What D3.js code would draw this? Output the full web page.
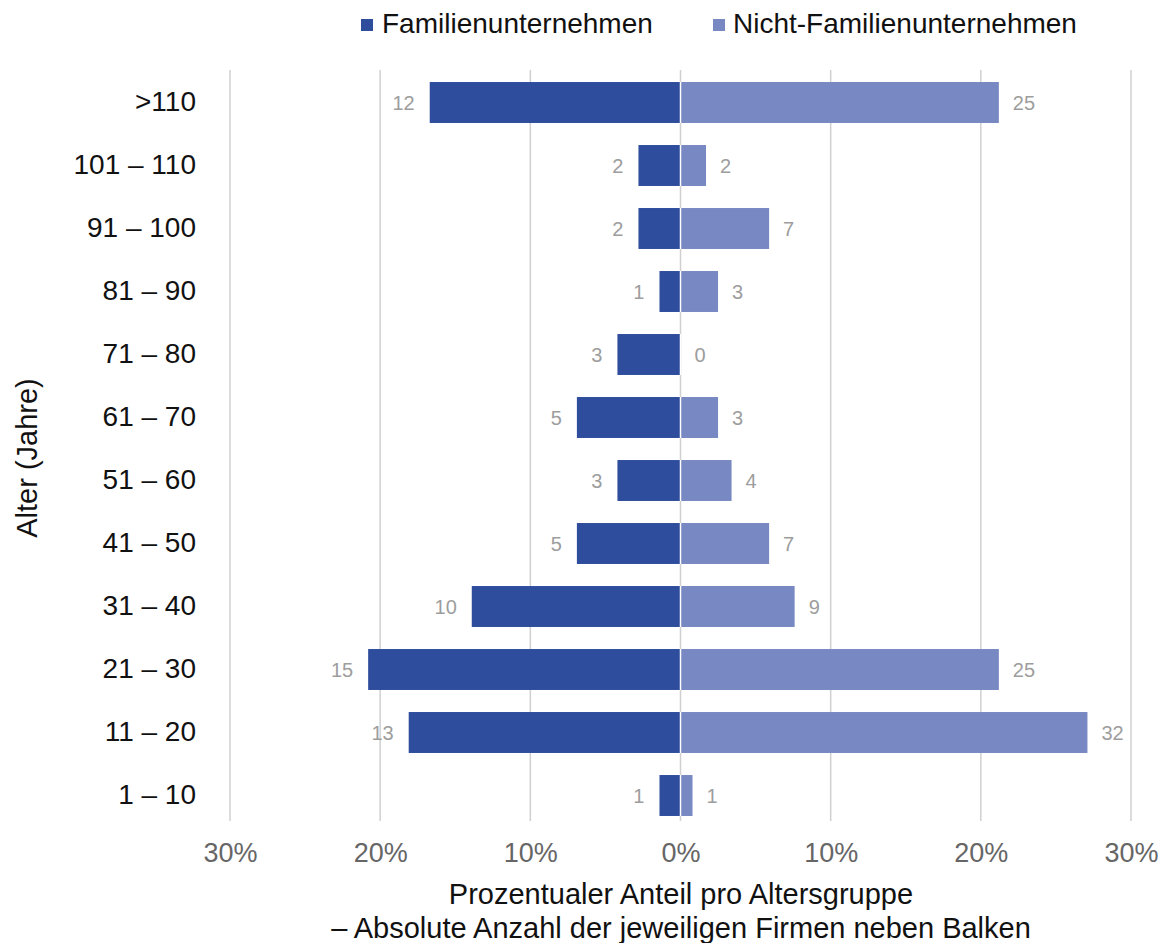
<!DOCTYPE html>
<html><head><meta charset="utf-8">
<script src="https://cdn.jsdelivr.net/npm/d3@7"></script>
<style>body{margin:0;background:#fff;} svg{display:block;font-family:"Liberation Sans",Arial,sans-serif;}</style>
</head><body><svg id="c" width="1166" height="943"></svg>
<script>
const categories = [">110","101 – 110","91 – 100","81 – 90","71 – 80","61 – 70","51 – 60","41 – 50","31 – 40","21 – 30","11 – 20","1 – 10"];
const familyPct = [16.7,2.8,2.8,1.4,4.2,6.9,4.2,6.9,13.9,20.8,18.1,1.4];
const familyCount = [12,2,2,1,3,5,3,5,10,15,13,1];
const nonFamilyPct = [21.2,1.7,5.9,2.5,0,2.5,3.4,5.9,7.6,21.2,27.1,0.8];
const nonFamilyCount = [25,2,7,3,0,3,4,7,9,25,32,1];
const tickValues = [-30,-20,-10,0,10,20,30];
const seriesNames = ["Familienunternehmen","Nicht-Familienunternehmen"];
const colors = ["#2f4d9d","#7888c2"];

const svg = d3.select("#c");
const x = d3.scaleLinear().domain([-30,30]).range([230,1131]);
const y = d3.scaleBand().domain(categories).range([71,827]).paddingInner(0.35).paddingOuter(0.175);
const grid = "#d0d0d0";

// gridlines
svg.append("g").selectAll("line").data(tickValues).join("line")
  .attr("x1",d=>x(d)).attr("x2",d=>x(d)).attr("y1",70).attr("y2",821)
  .attr("stroke",grid).attr("stroke-width",1.5);

// bars
const rows = categories.map((c,i)=>({c,fp:familyPct[i],fc:familyCount[i],np:nonFamilyPct[i],nc:nonFamilyCount[i]}));
svg.append("g").selectAll("rect").data(rows).join("rect")
  .attr("x",d=>x(-d.fp)).attr("width",d=>x(0)-x(-d.fp))
  .attr("y",d=>y(d.c)).attr("height",y.bandwidth()).attr("fill",colors[0]);
svg.append("g").selectAll("rect").data(rows.filter(d=>d.np>0)).join("rect")
  .attr("x",x(0)).attr("width",d=>x(d.np)-x(0))
  .attr("y",d=>y(d.c)).attr("height",y.bandwidth()).attr("fill",colors[1]);
// white separator over bars at 0
svg.append("g").selectAll("line").data(rows).join("line")
  .attr("x1",x(0)).attr("x2",x(0))
  .attr("y1",d=>y(d.c)).attr("y2",d=>y(d.c)+y.bandwidth())
  .attr("stroke","#fff").attr("stroke-width",1.5);

// value labels
svg.append("g").selectAll("text").data(rows).join("text")
  .attr("x",d=>x(-d.fp)-15).attr("y",d=>y(d.c)+y.bandwidth()/2).attr("dy","0.35em")
  .attr("text-anchor","end").attr("font-size",20).attr("fill","#9d9d9d").text(d=>d.fc);
svg.append("g").selectAll("text").data(rows).join("text")
  .attr("x",d=>x(d.np)+14).attr("y",d=>y(d.c)+y.bandwidth()/2).attr("dy","0.35em")
  .attr("text-anchor","start").attr("font-size",20).attr("fill","#9d9d9d").text(d=>d.nc);

// x axis
const xAxis = d3.axisBottom(x).tickValues(tickValues).tickSize(0).tickPadding(0)
  .tickFormat(d=>Math.abs(d)+"%");
const gx = svg.append("g").attr("transform","translate(0,843)").call(xAxis);
gx.select(".domain").remove();
gx.selectAll("text").attr("font-size",27).attr("fill","#666").attr("font-family","Liberation Sans, Arial, sans-serif").attr("dy","0.72em");

// y axis
const yAxis = d3.axisLeft(y).tickSize(0).tickPadding(0);
const gy = svg.append("g").attr("transform","translate(196,0)").call(yAxis);
gy.select(".domain").remove();
gy.selectAll("text").attr("font-size",28).attr("fill","#111").attr("font-family","Liberation Sans, Arial, sans-serif");

// axis titles
svg.append("text").attr("transform","translate(37,458) rotate(-90)").attr("text-anchor","middle")
  .attr("font-size",29).attr("fill","#111").text("Alter (Jahre)");
svg.append("text").attr("x",681).attr("y",904).attr("text-anchor","middle")
  .attr("font-size",29).attr("fill","#111").text("Prozentualer Anteil pro Altersgruppe");
svg.append("text").attr("x",681).attr("y",938).attr("text-anchor","middle")
  .attr("font-size",29).attr("fill","#111").text("– Absolute Anzahl der jeweiligen Firmen neben Balken");

// legend
const legX = [361,713];
const lg = svg.append("g").selectAll("g").data(seriesNames).join("g")
  .attr("transform",(d,i)=>`translate(${legX[i]},0)`);
lg.append("rect").attr("x",0).attr("y",19).attr("width",12).attr("height",12).attr("fill",(d,i)=>colors[i]);
lg.append("text").attr("x",(d,i)=>i===0?21:20).attr("y",33).attr("font-size",28).attr("fill","#111").text(d=>d);
</script></body></html>
